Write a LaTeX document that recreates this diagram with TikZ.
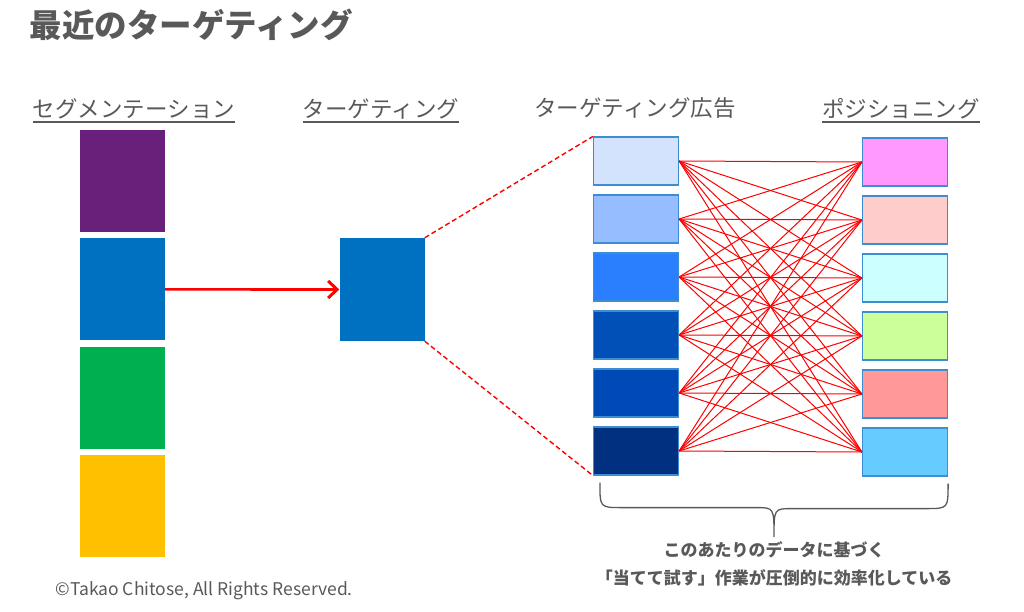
\documentclass[tikz,border=0pt]{standalone}
\usepackage{fontspec}
\setmainfont{Noto Sans CJK JP}
\usetikzlibrary{positioning, arrows.meta, calc}

\definecolor{txtgray}{HTML}{595959}
\definecolor{segpurple}{HTML}{68207A}
\definecolor{segblue}{HTML}{0070C0}
\definecolor{seggreen}{HTML}{00B050}
\definecolor{segyellow}{HTML}{FFC000}
\definecolor{adA}{HTML}{D3E3FD}
\definecolor{adB}{HTML}{95BDFF}
\definecolor{adC}{HTML}{2A7FFF}
\definecolor{adD}{HTML}{0050B8}
\definecolor{adE}{HTML}{004AB8}
\definecolor{adF}{HTML}{00307F}
\definecolor{posA}{HTML}{FF99FF}
\definecolor{posB}{HTML}{FFCCCC}
\definecolor{posC}{HTML}{CCFFFF}
\definecolor{posD}{HTML}{CCFF99}
\definecolor{posE}{HTML}{FF9999}
\definecolor{posF}{HTML}{66CCFF}
\definecolor{boxedge}{HTML}{3C8DD2}

\begin{document}
\begin{tikzpicture}[
  x=1pt, y=-1pt,
  >={Straight Barb[length=9pt, width=17pt, line width=3pt]},
  every node/.style={text=txtgray}
]
\tikzset{
  seg/.style    ={draw=none, minimum width=85pt, minimum height=102pt,
                  inner sep=0pt},
  small/.style  ={draw=boxedge, line width=1.2pt, minimum width=85pt,
                  minimum height=48pt, inner sep=0pt},
  head/.style   ={font=\fontsize{22.5}{26}\selectfont, inner xsep=0pt,
                  inner ysep=3pt, anchor=south},
  uline/.style  ={draw=txtgray, line width=1.4pt},
  link/.style   ={draw=red, line width=1pt},
  guide/.style  ={draw=red, line width=1.4pt, dash pattern=on 5pt off 3pt},
  note/.style   ={font=\fontsize{17}{28}\selectfont\bfseries, align=center}
}
\useasboundingbox (0,0) rectangle (1024,612);

%% ----- Title -----
\node[font=\fontsize{32.5}{38}\selectfont\bfseries, anchor=west] (title)
  at (26,25) {最近のターゲティング};

%% ----- Column headers -----
\node[head] (h1) at (134,122) {セグメンテーション};
\node[head] (h2) at (381,122) {ターゲティング};
\node[head] (h3) at (635,122) {ターゲティング広告};
\node[head] (h4) at (901,122) {ポジショニング};
\foreach \h in {h1,h2,h4}
  \draw[uline] (\h.south west) -- (\h.south east);

%% ----- Segmentation -----
\node[seg, fill=segpurple] (seg1) at (122.5,181) {};
\node[seg, fill=segblue, below=6pt of seg1] (seg2) {};
\node[seg, fill=seggreen, below=6pt of seg2] (seg3) {};
\node[seg, fill=segyellow, below=6pt of seg3] (seg4) {};

%% ----- Targeting -----
\node[seg, fill=segblue, minimum height=103pt] (tgt) at (382,289.5) {};
\draw[->, draw=red, line width=2.6pt] (seg2.east) -- (tgt.west);

%% ----- Targeting ads / positioning -----
\foreach \c [count=\i] in {adA,adB,adC,adD,adE,adF}
  \node[small, fill=\c] (ad\i) at (636,103+58*\i) {};
\foreach \c [count=\i] in {posA,posB,posC,posD,posE,posF}
  \node[small, fill=\c] (pos\i) at (905,104+58*\i) {};

\draw[guide] (tgt.north east) -- (ad1.north west);
\draw[guide] (tgt.south east) -- (ad6.south west);

\foreach \i in {1,...,6}
  \foreach \j in {1,...,6}
    \draw[link] (ad\i.east) -- (pos\j.west);

%% ----- Brace + note -----
\coordinate (bl) at ([xshift=7pt, yshift=-7pt]ad6.south west);
\coordinate (br) at ([yshift=-7pt]pos6.south east);
\coordinate (tip) at ($(bl)!0.5!(br) + (0,54)$);
\draw[draw=txtgray, line width=1.3pt]
  (bl) .. controls ([yshift=-25pt]bl) .. ([xshift=22pt, yshift=-25pt]bl)
  -- ([xshift=-18pt, yshift=-25pt]bl -| tip)
  .. controls ([yshift=-25pt]bl -| tip) .. (tip)
  .. controls ([yshift=-25pt]br -| tip) .. ([xshift=18pt, yshift=-25pt]br -| tip)
  -- ([xshift=-22pt, yshift=-25pt]br)
  .. controls ([yshift=-25pt]br) .. (br);
\node[note, below=1pt of tip] (note)
  {このあたりのデータに基づく\\「当てて試す」作業が圧倒的に効率化している};

%% ----- Footer -----
\node[font=\fontsize{17.5}{20}\selectfont, anchor=west] (copy) at (52,591)
  {©Takao Chitose, All Rights Reserved.};

\end{tikzpicture}
\end{document}
